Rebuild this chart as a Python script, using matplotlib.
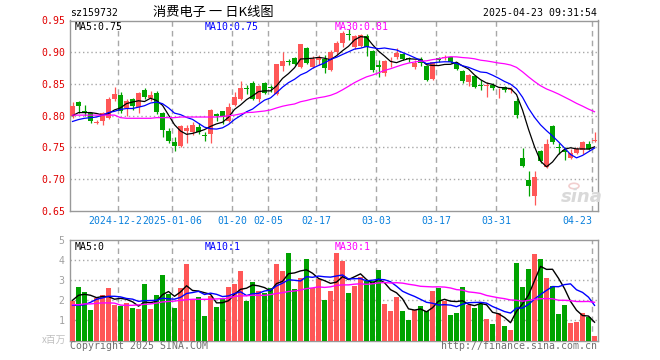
import numpy as np
import pandas as pd
import matplotlib
matplotlib.use('Agg')
import matplotlib.pyplot as plt
from matplotlib.patches import Circle

# daily candles, oldest first (88 trading days up to 2025-04-23)
opens = [0.799, 0.822, 0.807, 0.805, 0.789, 0.791, 0.797, 0.826, 0.832, 0.812,
         0.826, 0.814, 0.841, 0.828, 0.836, 0.804, 0.776, 0.759, 0.753, 0.776,
         0.775, 0.783, 0.769, 0.771, 0.802, 0.807, 0.792, 0.817, 0.826, 0.843,
         0.851, 0.826, 0.851, 0.845, 0.834, 0.879, 0.886, 0.891, 0.877, 0.907,
         0.877, 0.888, 0.890, 0.872, 0.900, 0.915, 0.928, 0.909, 0.910, 0.925,
         0.902, 0.880, 0.867, 0.884, 0.893, 0.898, 0.890, 0.877, 0.890, 0.879,
         0.858, 0.891, 0.891, 0.892, 0.883, 0.870, 0.853, 0.863, 0.848, 0.847,
         0.849, 0.840, 0.846, 0.841, 0.823, 0.733, 0.699, 0.674, 0.744, 0.720,
         0.784, 0.750, 0.746, 0.733, 0.742, 0.746, 0.756, 0.760]
highs = [0.821, 0.823, 0.817, 0.806, 0.793, 0.806, 0.830, 0.846, 0.838, 0.827,
         0.828, 0.838, 0.843, 0.839, 0.839, 0.806, 0.780, 0.767, 0.785, 0.785,
         0.790, 0.789, 0.775, 0.810, 0.805, 0.808, 0.820, 0.838, 0.854, 0.848,
         0.855, 0.849, 0.853, 0.849, 0.882, 0.900, 0.889, 0.892, 0.913, 0.909,
         0.894, 0.895, 0.896, 0.903, 0.917, 0.934, 0.936, 0.927, 0.929, 0.928,
         0.904, 0.888, 0.888, 0.893, 0.907, 0.899, 0.893, 0.888, 0.893, 0.880,
         0.885, 0.892, 0.895, 0.893, 0.885, 0.872, 0.865, 0.864, 0.856, 0.853,
         0.851, 0.844, 0.847, 0.845, 0.828, 0.749, 0.713, 0.713, 0.746, 0.763,
         0.785, 0.757, 0.750, 0.747, 0.751, 0.760, 0.760, 0.774]
lows = [0.797, 0.805, 0.800, 0.789, 0.787, 0.785, 0.795, 0.824, 0.805, 0.800,
        0.809, 0.805, 0.826, 0.824, 0.803, 0.766, 0.757, 0.744, 0.751, 0.757,
        0.770, 0.771, 0.760, 0.757, 0.791, 0.787, 0.790, 0.815, 0.825, 0.834,
        0.825, 0.822, 0.834, 0.838, 0.832, 0.871, 0.880, 0.880, 0.875, 0.882,
        0.875, 0.880, 0.868, 0.870, 0.898, 0.909, 0.919, 0.905, 0.908, 0.894,
        0.869, 0.861, 0.862, 0.876, 0.890, 0.888, 0.884, 0.873, 0.878, 0.854,
        0.856, 0.885, 0.888, 0.883, 0.872, 0.852, 0.847, 0.843, 0.841, 0.830,
        0.841, 0.828, 0.838, 0.836, 0.797, 0.720, 0.674, 0.660, 0.725, 0.718,
        0.755, 0.740, 0.730, 0.732, 0.740, 0.740, 0.746, 0.758]
closes = [0.816, 0.815, 0.806, 0.791, 0.790, 0.804, 0.826, 0.835, 0.807, 0.824,
          0.816, 0.836, 0.829, 0.833, 0.806, 0.778, 0.760, 0.752, 0.784, 0.780,
          0.785, 0.774, 0.768, 0.809, 0.800, 0.798, 0.813, 0.830, 0.844, 0.842,
          0.827, 0.847, 0.836, 0.844, 0.881, 0.886, 0.885, 0.882, 0.913, 0.883,
          0.890, 0.892, 0.875, 0.901, 0.914, 0.930, 0.927, 0.925, 0.927, 0.909,
          0.872, 0.876, 0.886, 0.885, 0.899, 0.890, 0.889, 0.883, 0.883, 0.857,
          0.884, 0.888, 0.892, 0.884, 0.874, 0.854, 0.864, 0.845, 0.847, 0.848,
          0.843, 0.841, 0.840, 0.842, 0.801, 0.721, 0.689, 0.703, 0.729, 0.756,
          0.759, 0.749, 0.743, 0.741, 0.747, 0.759, 0.747, 0.761]
# volume in millions
volumes = [1.95, 2.67, 2.42, 1.50, 2.12, 2.25, 2.62, 1.78, 1.72, 1.88,
           1.62, 1.55, 2.80, 1.55, 2.25, 3.25, 2.33, 1.62, 2.62, 3.80,
           2.08, 2.17, 1.22, 2.22, 1.67, 2.12, 2.67, 2.80, 3.47, 1.95,
           2.92, 2.45, 2.37, 2.62, 3.80, 3.47, 4.37, 2.55, 3.12, 4.07,
           2.62, 3.08, 2.00, 2.45, 4.37, 3.97, 2.37, 2.70, 3.17, 2.95,
           2.95, 3.50, 1.80, 1.45, 2.17, 1.45, 1.00, 1.50, 1.72, 1.47,
           2.47, 2.62, 1.97, 1.25, 1.38, 2.67, 1.75, 1.62, 1.80, 1.05,
           0.80, 1.38, 0.70, 0.50, 3.87, 2.67, 3.55, 4.30, 4.05, 3.12,
           2.70, 1.30, 1.75, 0.87, 0.92, 1.37, 1.17, 0.22]

ma5_head = [0.800, 0.805, 0.805, 0.805]
ma10_head = [0.791, 0.794, 0.796, 0.797, 0.798, 0.801, 0.805, 0.807, 0.810]
ma30_head = [0.801, 0.801, 0.801, 0.801, 0.801, 0.801, 0.801, 0.801, 0.797, 0.796,
             0.796, 0.796, 0.796, 0.796, 0.797, 0.797, 0.797, 0.797, 0.798, 0.798,
             0.798, 0.798, 0.798, 0.798, 0.798, 0.799, 0.800, 0.801, 0.803]
vol_ma5_head = [2.00, 2.25, 2.30, 2.25]
vol_ma10_head = [1.75, 1.75, 1.78, 1.90, 2.05, 2.12, 2.20, 2.20, 2.17]
vol_ma30_head = [1.78, 1.78, 1.82, 1.82, 1.85, 1.87, 1.87, 1.86, 1.76, 1.75,
                 1.75, 1.77, 1.80, 1.82, 1.86, 1.92, 1.94, 1.96, 2.00, 2.03,
                 2.05, 2.05, 2.05, 2.05, 2.07, 2.08, 2.10, 2.20, 2.22]

# the first label is cut off by the second one in the original
date_labels = ['2024-12-2', '2025-01-06', '01-20', '02-05', '02-17', '03-03', '03-17', '03-31', '04-23']
date_index = [8, 17, 27, 33, 41, 51, 61, 71, 87]
price_ticks = [0.65, 0.70, 0.75, 0.80, 0.85, 0.90, 0.95]
vol_ticks = [1, 2, 3, 4, 5]

RED = '#FF5757'
GREEN = '#00A300'
GRID = '#A8A8A8'
MONO = 'DejaVu Sans Mono'
FS = 7.1


def moving_average(values, window, head):
    ma = pd.Series(values).rolling(window).mean().to_numpy()
    ma[:len(head)] = head
    return ma


W, H = 660, 360
fig = plt.figure(figsize=(W / 100, H / 100), dpi=100)
fig.patch.set_facecolor('white')

ax = fig.add_axes([70 / W, 149 / H, 528 / W, 190.5 / H])
axv = fig.add_axes([70 / W, 19.5 / H, 528 / W, 100.5 / H])

x = np.arange(len(closes))
o = np.array(opens)
c = np.array(closes)
up = c >= o
colors = [RED if u else GREEN for u in up]

# candles
ax.vlines(x, lows, highs, colors=colors, linewidth=0.9, zorder=3)
body_bottom = np.minimum(o, c)
body_height = np.maximum(np.abs(c - o), 0.0012)
ax.bar(x, body_height, bottom=body_bottom, width=0.8, color=colors, linewidth=0, zorder=4)

ax.plot(x, moving_average(closes, 5, ma5_head), color='black', lw=0.9, zorder=5)
ax.plot(x, moving_average(closes, 10, ma10_head), color='#0000FF', lw=0.9, zorder=5)
ax.plot(x, moving_average(closes, 30, ma30_head), color='#FF00FF', lw=0.9, zorder=5)

# volume
axv.bar(x, volumes, width=0.82, color=colors, linewidth=0, zorder=3)
axv.plot(x, moving_average(volumes, 5, vol_ma5_head), color='black', lw=1.0, zorder=5)
axv.plot(x, moving_average(volumes, 10, vol_ma10_head), color='#0000FF', lw=1.0, zorder=5)
axv.plot(x, moving_average(volumes, 30, vol_ma30_head), color='#FF00FF', lw=1.0, zorder=5)

for a in (ax, axv):
    a.set_xlim(-0.42, 87.58)
    a.set_xticks([])
    for s in a.spines.values():
        s.set_color('#999999')
        s.set_linewidth(1.0)
    for d in date_index:
        a.axvline(d - 0.37, color=GRID, lw=1.0, ls=(0, (4, 3)), zorder=1)

ax.set_ylim(0.65, 0.95)
ax.set_yticks(price_ticks)
ax.set_yticklabels(['%.2f' % t for t in price_ticks], family=MONO, fontsize=FS, color='#E00000')
ax.tick_params(axis='y', length=0, pad=3)
for t in price_ticks[1:-1]:
    ax.axhline(t, color=GRID, lw=1.0, ls=(0, (1, 2)), zorder=1)

axv.set_ylim(0, 5)
axv.set_yticks(vol_ticks)
axv.set_yticklabels([str(t) for t in vol_ticks], family=MONO, fontsize=FS, color='#A0A0A0')
axv.tick_params(axis='y', length=0, pad=4)
for t in vol_ticks[:-1]:
    axv.axhline(t, color=GRID, lw=1.0, ls=(0, (1, 2)), zorder=1)

# date labels under the price panel
xt = ax.get_xaxis_transform()
for k, (d, lbl) in enumerate(zip(date_index, date_labels)):
    if k == 0:
        # truncated label sits just left of the next one
        ax.text(date_index[1] - 0.37 - 5.0, -0.053, lbl, transform=xt, ha='right', va='center',
                family=MONO, fontsize=FS, color='#0A80DC')
        continue
    ha = 'right' if k == len(date_index) - 1 else 'center'
    ax.text(d - 0.37, -0.053, lbl, transform=xt, ha=ha, va='center',
            family=MONO, fontsize=FS, color='#0A80DC')


def ftext(px, py, s, **kw):
    fig.text(px / W, 1 - py / H, s, **kw)


ftext(70, 13, 'sz159732', family=MONO, fontsize=FS, color='black', va='center')
ftext(213, 12.5, '消费电子 一 日K线图', family=['Noto Sans CJK SC', 'DejaVu Sans'],
      fontsize=9.5, color='black', va='center', ha='center')
ftext(597, 13, '2025-04-23 09:31:54', family=MONO, fontsize=FS, color='black', va='center', ha='right')

ftext(75, 27, 'MA5:0.75', family=MONO, fontsize=FS, color='black', va='center')
ftext(205, 27, 'MA10:0.75', family=MONO, fontsize=FS, color='#0000FF', va='center')
ftext(335, 27, 'MA30:0.81', family=MONO, fontsize=FS, color='#FF00FF', va='center')

ftext(75, 247, 'MA5:0', family=MONO, fontsize=FS, color='black', va='center')
ftext(205, 247, 'MA10:1', family=MONO, fontsize=FS, color='#0000FF', va='center')
ftext(335, 247, 'MA30:1', family=MONO, fontsize=FS, color='#FF00FF', va='center')

ftext(66, 339.5, 'x百万', family=['Noto Sans CJK SC', 'DejaVu Sans'], fontsize=7, color='#C0C0C0',
      va='center', ha='right')
ftext(70, 346, 'Copyright 2025 SINA.COM', family=MONO, fontsize=FS, color='#707070', va='center')
ftext(597, 346, 'http://finance.sina.com.cn', family=MONO, fontsize=FS, color='#707070',
      va='center', ha='right')

# faint sina watermark
ftext(582, 197, 'sina', fontsize=13, color='#D9D9D9', weight='bold', style='italic',
      va='center', ha='center')
fig.patches.append(Circle((574 / W, 1 - 186 / H), 5 / W, transform=fig.transFigure,
                          facecolor='none', edgecolor='#F2CFCF', lw=1.2))

fig.savefig('out.png', dpi=100, facecolor='white')
